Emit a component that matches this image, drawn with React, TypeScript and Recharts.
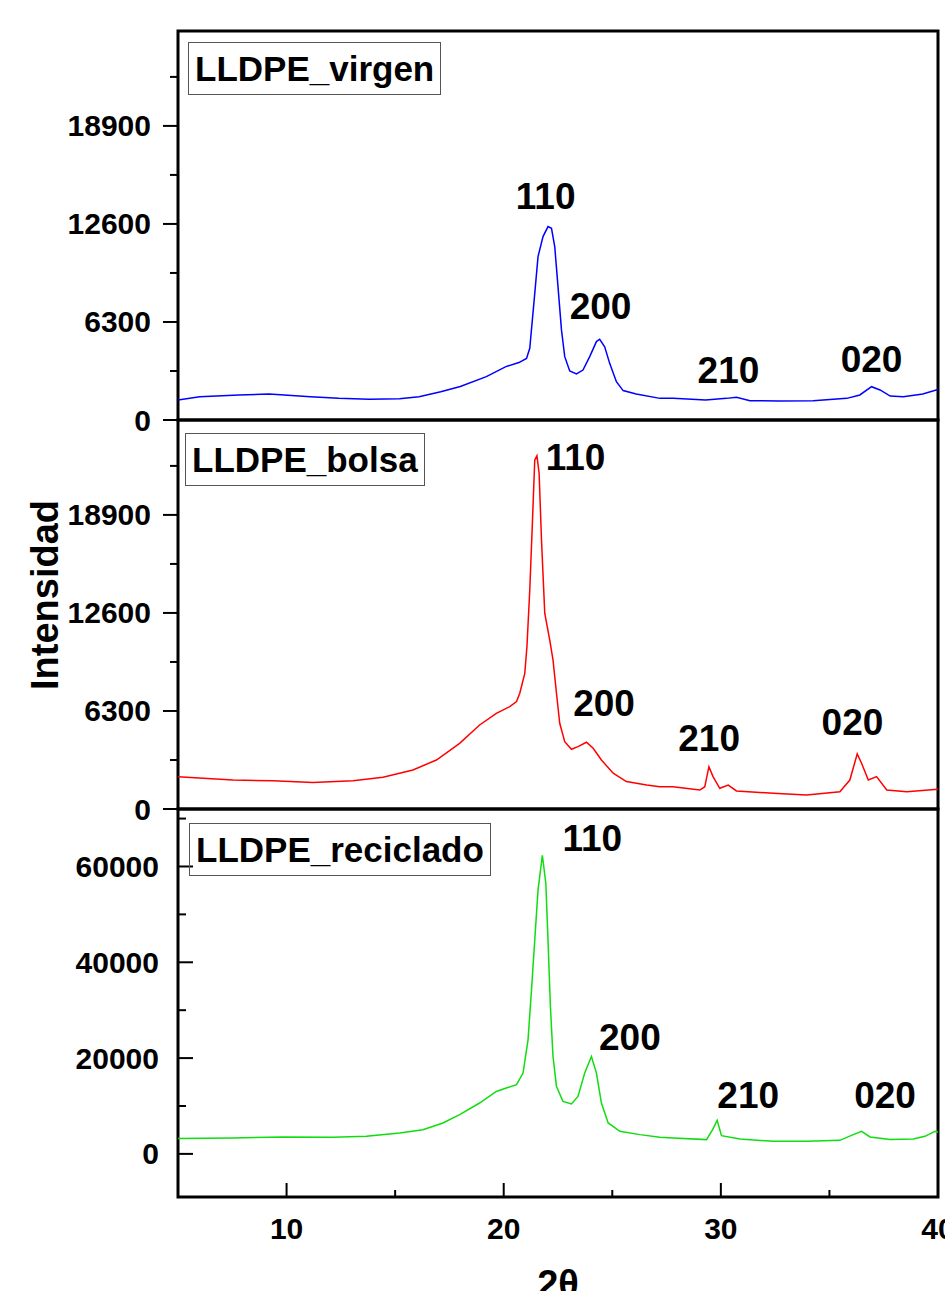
import React from "react";
import { LineChart, Line, XAxis, YAxis, ReferenceArea, ReferenceDot } from "recharts";

const FONT = "'Liberation Sans', Arial, Helvetica, sans-serif";

const virgenTheta = [5.0, 6.0, 7.8, 9.2, 11.1, 12.4, 13.8, 15.2, 16.1, 17.1, 18.0, 19.2, 20.1, 20.7, 21.05, 21.2, 21.43, 21.58, 21.81, 22.04, 22.2, 22.35, 22.5, 22.66, 22.81, 23.04, 23.35, 23.65, 23.96, 24.27, 24.42, 24.65, 24.88, 25.19, 25.5, 26.1, 27.2, 27.8, 29.3, 30.26, 30.72, 31.34, 32.7, 34.25, 35.8, 36.4, 36.94, 37.33, 37.8, 38.4, 39.3, 40.0];
const virgenIntensity = [1290, 1500, 1610, 1670, 1500, 1390, 1330, 1370, 1500, 1820, 2150, 2790, 3430, 3690, 3960, 4610, 8140, 10500, 11790, 12430, 12320, 11140, 8570, 5790, 4070, 3150, 2960, 3210, 4070, 5040, 5190, 4710, 3640, 2460, 1890, 1670, 1390, 1390, 1290, 1390, 1460, 1240, 1220, 1240, 1390, 1610, 2140, 1930, 1540, 1500, 1670, 1970];

const bolsaTheta = [5.0, 7.53, 9.37, 11.21, 13.06, 14.44, 15.82, 16.9, 17.97, 18.89, 19.66, 20.28, 20.59, 20.74, 20.97, 21.07, 21.2, 21.32, 21.43, 21.53, 21.63, 21.74, 21.89, 22.12, 22.27, 22.43, 22.58, 22.81, 23.12, 23.42, 23.81, 24.12, 24.5, 25.04, 25.65, 26.58, 27.19, 27.8, 29.03, 29.26, 29.45, 29.64, 29.95, 30.34, 30.72, 32.41, 33.95, 35.48, 35.94, 36.28, 36.48, 36.79, 37.17, 37.64, 38.56, 40.0];
const bolsaIntensity = [2080, 1860, 1820, 1710, 1820, 2040, 2510, 3150, 4220, 5400, 6150, 6580, 6900, 7440, 8720, 10440, 14080, 18370, 22440, 22700, 21580, 17290, 12580, 10860, 9580, 7440, 5510, 4330, 3840, 4010, 4290, 3900, 3150, 2300, 1760, 1540, 1430, 1430, 1220, 1430, 2720, 2080, 1330, 1540, 1160, 1010, 900, 1110, 1860, 3540, 2940, 1860, 2080, 1220, 1110, 1270];

const recicladoTheta = [5.0, 7.53, 9.83, 12.13, 13.67, 15.21, 16.28, 17.2, 17.97, 18.89, 19.66, 20.12, 20.59, 20.89, 21.12, 21.28, 21.43, 21.58, 21.78, 21.94, 22.04, 22.15, 22.27, 22.43, 22.73, 23.12, 23.42, 23.73, 24.04, 24.27, 24.5, 24.81, 25.35, 26.27, 27.19, 27.8, 29.34, 29.62, 29.83, 30.03, 30.88, 32.41, 33.95, 35.48, 36.1, 36.48, 36.87, 37.79, 38.86, 39.4, 39.86, 40.0];
const recicladoIntensity = [3190, 3330, 3540, 3470, 3680, 4370, 5060, 6460, 8190, 10620, 13040, 13750, 14440, 16870, 23810, 34230, 44640, 55060, 62350, 56450, 44640, 30750, 20330, 14080, 10960, 10420, 12000, 16870, 20330, 16870, 10620, 6460, 4710, 4020, 3460, 3330, 2980, 5060, 7000, 3810, 3120, 2620, 2620, 2830, 4020, 4710, 3540, 2980, 3120, 3670, 4710, 4500];

// planos (hkl) y dónde va cada rótulo (2θ, intensidad)
const hkl = ["110", "200", "210", "020"];
const virgenLabelTheta = [21.93, 24.46, 30.35, 36.94];
const virgenLabelI = [14360, 7280, 3190, 3920];
const bolsaLabelTheta = [23.31, 24.62, 29.46, 36.06];
const bolsaLabelI = [22600, 6800, 4550, 5560];
const recicladoLabelTheta = [24.08, 25.81, 31.26, 37.56];
const recicladoLabelI = [65800, 24330, 12190, 12190];

const xMajor = [10, 20, 30, 40];
const xMinor = [15, 25, 35];
const yMajorA = [0, 6300, 12600, 18900];
const yMinorA = [3150, 9450, 15750, 22050];
const yMajorC = [0, 20000, 40000, 60000];
const yMinorC = [10000, 30000, 50000, 70000];

type PanelProps = {
  theta: number[];
  intensity: number[];
  color: string;
  yDomain: [number, number];
  yMajor: number[];
  yMinor: number[];
  inside: boolean;
  showX: boolean;
  labelTheta: number[];
  labelI: number[];
  top: number;
  height: number;
  margin: { top: number; right: number; bottom: number; left: number };
};

function Panel(p: PanelProps) {
  const data = p.theta.map((t, i) => ({ t, v: p.intensity[i] }));

  const yTick = (props: any) => {
    const { x, y, payload } = props;
    const major = p.yMajor.includes(payload.value);
    const len = major ? 15 : 8;
    const dir = p.inside ? 1 : -1;
    return (
      <g>
        <line x1={x} x2={x + dir * len} y1={y} y2={y} stroke="#000" strokeWidth={2} />
        {major && (
          <text
            x={p.inside ? x - 19 : x - 27}
            y={y}
            textAnchor="end"
            dominantBaseline="central"
            fontFamily={FONT}
            fontWeight="bold"
            fontSize={30}
            fill="#000"
          >
            {payload.value}
          </text>
        )}
      </g>
    );
  };

  const xTick = (props: any) => {
    const { x, y, payload } = props;
    const major = xMajor.includes(payload.value);
    const len = major ? 14 : 7;
    return (
      <g>
        <line x1={x} x2={x} y1={y} y2={y - len} stroke="#000" strokeWidth={2} />
        {major && (
          <text
            x={x}
            y={y + 31}
            textAnchor="middle"
            dominantBaseline="central"
            fontFamily={FONT}
            fontWeight="bold"
            fontSize={30}
            fill="#000"
          >
            {payload.value}
          </text>
        )}
      </g>
    );
  };

  const yTicks = [...p.yMajor, ...p.yMinor].sort((a, b) => a - b);

  return (
    <div style={{ position: "absolute", left: 0, top: p.top }}>
      <LineChart width={945} height={p.height} data={data} margin={p.margin}>
        <XAxis
          dataKey="t"
          type="number"
          domain={[5, 40]}
          allowDataOverflow
          ticks={[...xMajor, ...xMinor].sort((a, b) => a - b)}
          interval={0}
          hide={!p.showX}
          height={1}
          tickSize={0}
          tickMargin={0}
          axisLine={false}
          tickLine={false}
          tick={xTick}
        />
        <YAxis
          type="number"
          domain={p.yDomain}
          allowDataOverflow
          ticks={yTicks}
          interval={0}
          width={1}
          tickSize={0}
          tickMargin={0}
          axisLine={false}
          tickLine={false}
          tick={yTick}
        />
        <Line
          dataKey="v"
          type="linear"
          stroke={p.color}
          strokeWidth={1.5}
          dot={false}
          isAnimationActive={false}
        />
        <ReferenceArea
          x1={5}
          x2={40}
          y1={p.yDomain[0]}
          y2={p.yDomain[1]}
          fill="none"
          fillOpacity={0}
          stroke="#000"
          strokeWidth={3}
          ifOverflow="visible"
        />
        {hkl.map((h, i) => (
          <ReferenceDot
            key={h}
            x={p.labelTheta[i]}
            y={p.labelI[i]}
            r={0}
            ifOverflow="visible"
            shape={(s: any) => (
              <text
                x={s.cx}
                y={s.cy}
                textAnchor="middle"
                dominantBaseline="central"
                fontFamily={FONT}
                fontWeight="bold"
                fontSize={37}
                fill="#000"
              >
                {h}
              </text>
            )}
          />
        ))}
      </LineChart>
    </div>
  );
}

const titleStyle: React.CSSProperties = {
  position: "absolute",
  height: 53,
  boxSizing: "border-box",
  border: "1.5px solid #555",
  padding: "0 6px",
  display: "flex",
  alignItems: "center",
  fontFamily: FONT,
  fontWeight: "bold",
  fontSize: 35,
  lineHeight: 1,
  whiteSpace: "nowrap",
  color: "#000",
};

export default function App() {
  return (
    <div
      style={{
        position: "absolute",
        left: 0,
        top: 0,
        width: 945,
        height: 1291,
        overflow: "hidden",
        background: "#fff",
      }}
    >
      <Panel
        theta={virgenTheta}
        intensity={virgenIntensity}
        color="#0000ff"
        yDomain={[0, 25000]}
        yMajor={yMajorA}
        yMinor={yMinorA}
        inside={false}
        showX={false}
        labelTheta={virgenLabelTheta}
        labelI={virgenLabelI}
        top={0}
        height={440}
        margin={{ top: 31, right: 7, bottom: 20, left: 177 }}
      />
      <Panel
        theta={bolsaTheta}
        intensity={bolsaIntensity}
        color="#ff0000"
        yDomain={[0, 25000]}
        yMajor={yMajorA}
        yMinor={yMinorA}
        inside={false}
        showX={false}
        labelTheta={bolsaLabelTheta}
        labelI={bolsaLabelI}
        top={400}
        height={440}
        margin={{ top: 20, right: 7, bottom: 31, left: 177 }}
      />
      <Panel
        theta={recicladoTheta}
        intensity={recicladoIntensity}
        color="#10dd10"
        yDomain={[-9000, 72000]}
        yMajor={yMajorC}
        yMinor={yMinorC}
        inside={true}
        showX={true}
        labelTheta={recicladoLabelTheta}
        labelI={recicladoLabelI}
        top={789}
        height={502}
        margin={{ top: 20, right: 7, bottom: 93, left: 177 }}
      />

      <div style={{ ...titleStyle, left: 188, top: 42 }}>LLDPE_virgen</div>
      <div style={{ ...titleStyle, left: 185, top: 433 }}>LLDPE_bolsa</div>
      <div style={{ ...titleStyle, left: 189, top: 823 }}>LLDPE_reciclado</div>

      <svg
        width={945}
        height={1291}
        style={{ position: "absolute", left: 0, top: 0, pointerEvents: "none" }}
      >
        <text
          transform="translate(58,595) rotate(-90)"
          textAnchor="middle"
          fontFamily={FONT}
          fontWeight="bold"
          fontSize={38}
          fill="#000"
        >
          Intensidad
        </text>
        <text
          x={558}
          y={1297}
          textAnchor="middle"
          fontFamily={FONT}
          fontWeight="bold"
          fontSize={38}
          fill="#000"
        >
          2θ
        </text>
      </svg>
    </div>
  );
}
